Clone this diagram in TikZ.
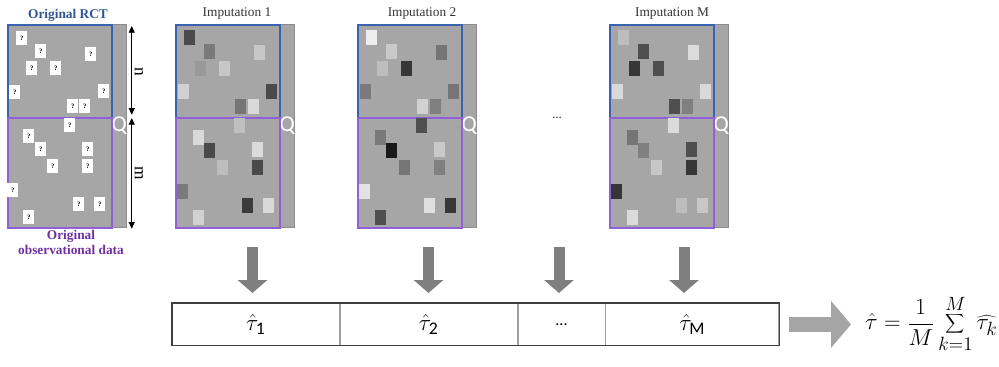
\documentclass[tikz,border=0pt]{standalone}
\usepackage{fontspec}
\setmainfont{Liberation Serif}
\setsansfont{Carlito}
\usetikzlibrary{arrows.meta,positioning}
\definecolor{fondo}{HTML}{A6A6A6}
\definecolor{bordeq}{HTML}{8C8C8C}
\definecolor{azulrct}{HTML}{3A62B0}
\definecolor{moradoobs}{HTML}{8F60DA}
\definecolor{textoazul}{HTML}{2F5597}
\definecolor{textomorado}{HTML}{7030A0}
\definecolor{flechagris}{HTML}{7F7F7F}
\definecolor{flechaclara}{HTML}{A5A5A5}
\definecolor{lineatabla}{HTML}{A0A0A0}
\newcommand{\pxu}{0.75pt}
\tikzset{
  bloque/.style={fill=fondo,line width=1.3pt,inner sep=0pt,anchor=north west,minimum width=104*\pxu},
  bloquerct/.style={bloque,draw=azulrct,minimum height=93*\pxu},
  bloqueobs/.style={bloque,draw=moradoobs,minimum height=110*\pxu},
  columnaq/.style={draw=bordeq,fill=fondo,line width=0.8pt,inner sep=0pt,anchor=north west,minimum width=15*\pxu,minimum height=203*\pxu,font=\sffamily\fontsize{17}{17}\selectfont,text=white},
  hueco/.style={fill=white,inner sep=0pt,anchor=north west,minimum width=11*\pxu,minimum height=14*\pxu,font=\fontsize{5}{5}\selectfont\bfseries},
  celda/.style={inner sep=0pt,anchor=north west,minimum width=11*\pxu,minimum height=15*\pxu},
  titulo/.style={font=\fontsize{10}{10}\selectfont,text=black!80},
  cota/.style={{Triangle[width=4.5pt,length=5pt]}-{Triangle[width=4.5pt,length=5pt]},line width=0.6pt},
  etiquetacota/.style={midway,rotate=-90,anchor=south,inner sep=2pt,font=\fontsize{13}{13}\selectfont},
  flechabaja/.style={-{Triangle[width=21.75pt,length=9.75pt]},line width=8.25pt,flechagris,shorten >=7.5pt},
  flechader/.style={-{Triangle[width=34.5pt,length=15pt]},line width=11.25pt,flechaclara,shorten <=7.5pt,shorten >=10.5pt},
  estim/.style={draw=lineatabla,line width=0.6pt,inner sep=0pt,minimum height=42*\pxu,font=\fontsize{19}{19}\selectfont},
}

\begin{document}
\begin{tikzpicture}[x=\pxu,y=-\pxu]
  \useasboundingbox (0,0) rectangle (999,367);
  % datos originales
  \node[columnaq] (q0) at (111,24) {Q};
  \node[bloquerct] (rct0) at (7,24) {};
  \node[bloqueobs] (obs0) at (7,117) {};
  \foreach \cx/\cy in {9/7,28/20,78/23,19/37,43/37,2/61,91/60,60/75,72/75,57/94,16/105,28/118,75/118,40/135,75/135,0/159,66/173,87/173,16/186}
    \node[hueco] at (7+\cx,24+\cy) {?};
  \node[font=\fontsize{10}{10}\selectfont\bfseries,text=textoazul] (tit0) at (68,15) {Original RCT};
  \node[font=\fontsize{10}{11.25}\selectfont\bfseries,text=textomorado,align=center] (pie0) at (71,242) {Original\\observational data};
  \draw[cota,shorten <=2*\pxu,shorten >=4*\pxu] ([xshift=19*\pxu]rct0.north east) -- node[etiquetacota] (ln) {n} ([xshift=19*\pxu]rct0.south east);
  \draw[cota,shorten <=1*\pxu] ([xshift=19*\pxu]obs0.north east) -- node[etiquetacota] (lm) {m} ([xshift=19*\pxu]obs0.south east);

  % imputacion 1
  \node[columnaq] (q1) at (279,24) {Q};
  \node[bloquerct] (rct1) at (175,24) {};
  \node[bloqueobs] (obs1) at (175,117) {};
  \node[titulo] (tit1) at (237,14) {Imputation 1};
  \foreach \cx/\cy/\tono in {9/6/71,29/20/52,79/21/22,20/37/40,44/37/22,3/60/18,91/60/71,60/75/54,73/75/15,59/94/25,18/106/15,29/119/71,77/118/14,42/136/26,77/136/71,2/160/52,67/174/77,88/174/15,18/186/18}
    \node[celda,fill=black!\tono] at (175+\cx,24+\cy) {};

  % imputacion 2
  \node[columnaq] (q2) at (461,24) {Q};
  \node[bloquerct] (rct2) at (357,24) {};
  \node[bloqueobs] (obs2) at (357,117) {};
  \node[titulo] (tit2) at (422,14) {Imputation 2};
  \foreach \cx/\cy/\tono in {9/6/7,29/20/21,79/21/54,20/37/26,44/37/79,3/60/52,91/60/54,60/75/18,73/75/50,59/94/69,18/106/52,29/119/90,77/118/21,42/136/54,77/136/50,2/160/11,67/174/12,88/174/79,18/186/69}
    \node[celda,fill=black!\tono] at (357+\cx,24+\cy) {};

  \node[titulo] (puntos) at (557,118) {...};

  % imputacion M
  \node[columnaq] (qm) at (713,24) {Q};
  \node[bloquerct] (rctm) at (609,24) {};
  \node[bloqueobs] (obsm) at (609,117) {};
  \node[titulo] (titm) at (672,14) {Imputation M};
  \foreach \cx/\cy/\tono in {9/6/26,29/20/69,79/21/14,20/37/79,44/37/69,3/60/15,91/60/15,60/75/69,73/75/50,59/94/14,18/106/54,29/119/50,77/118/69,42/136/22,77/136/79,2/160/79,67/174/26,88/174/22,18/186/14}
    \node[celda,fill=black!\tono] at (609+\cx,24+\cy) {};

  % tabla de estimaciones
  \node[estim,minimum width=167*\pxu,anchor=north west] (t1) at (172,303) {$\hat{\tau}_{\mathsf{1}}$};
  \node[estim,minimum width=177*\pxu,right=0pt of t1] (t2) {$\hat{\tau}_{\mathsf{2}}$};
  \node[estim,minimum width=87*\pxu,right=0pt of t2] (t3) {\sffamily\fontsize{12}{12}\selectfont ...};
  \node[estim,minimum width=173*\pxu,right=0pt of t3] (t4) {$\hat{\tau}_{\mathsf{M}}$};
  \draw[line width=0.8pt,black!75] (t1.north west) rectangle (t4.south east);

  \coordinate (a1) at (252.5,247);
  \coordinate (a2) at (428.5,247);
  \coordinate (a3) at (559,247);
  \coordinate (a4) at (684,247);
  \foreach \i in {1,...,4}
    \draw[flechabaja] (a\i) -- (a\i |- t\i.north);

  \node[anchor=west,inner sep=0pt,font=\fontsize{19}{19}\selectfont] (est) at (865,324) {$\displaystyle\hat{\tau}=\frac{1}{M}\sum_{k=1}^{M}\widehat{\tau_k}$};
  \draw[flechader] (t4.east) -- (t4.east -| est.west);
\end{tikzpicture}
\end{document}
